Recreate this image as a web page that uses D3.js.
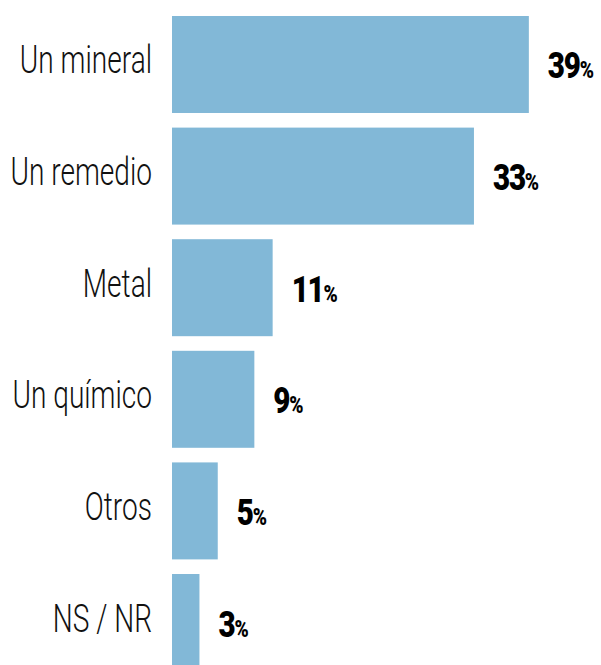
<!DOCTYPE html>
<html>
<head>
<meta charset="utf-8">
<script src="https://cdn.jsdelivr.net/npm/d3@7"></script>
<style>
  body { margin: 0; background: #fff; }
  svg { display: block; }
</style>
</head>
<body>
<div id="chart"></div>
<script>
// données
const categories = ["Un mineral", "Un remedio", "Metal", "Un químico", "Otros", "NS / NR"];
const values = [39, 33, 11, 9, 5, 3];

const width = 601;
const height = 665;
const x0 = 172;        // début des barres
const pxPerPct = 9.15; // largeur par point de pourcentage

const svg = d3.select("#chart")
  .append("svg")
  .attr("width", width)
  .attr("height", height);

// échelles
const x = d3.scaleLinear()
  .domain([0, 39])
  .range([x0, x0 + 39 * pxPerPct]);

const y = d3.scaleBand()
  .domain(categories)
  .range([16, 671])
  .paddingInner(0.131)
  .paddingOuter(0);

const rows = categories.map((c, i) => ({ cat: c, val: values[i] }));

// barres
svg.append("g")
  .selectAll("rect")
  .data(rows)
  .join("rect")
  .attr("x", x(0))
  .attr("y", d => y(d.cat))
  .attr("width", d => x(d.val) - x(0))
  .attr("height", y.bandwidth())
  .attr("fill", "#82b8d7");

// étiquettes des catégories (texte condensé)
const catSx = 0.72;
svg.append("g")
  .selectAll("g")
  .data(rows)
  .join("g")
  .attr("transform", d => `translate(152, ${y(d.cat) + y.bandwidth() / 2 + 9}) scale(${catSx},1)`)
  .append("text")
  .attr("text-anchor", "end")
  .attr("font-family", "Roboto, 'Liberation Sans', sans-serif")
  .attr("font-weight", 300)
  .attr("font-size", "39px")
  .attr("fill", "#111")
  .text(d => d.cat);

// étiquettes des valeurs
const valSx = 0.8;
const valLabels = svg.append("g")
  .selectAll("g")
  .data(rows)
  .join("g")
  .attr("transform", d => `translate(${x(d.val) + 19}, ${y(d.cat) + y.bandwidth() / 2 + 14}) scale(${valSx},1)`)
  .append("text")
  .attr("font-family", "Roboto, 'Liberation Sans', sans-serif")
  .attr("font-weight", 900)
  .attr("fill", "#000");

valLabels.append("tspan")
  .attr("font-size", "37px")
  .attr("letter-spacing", "-1.5px")
  .text(d => d.val);

valLabels.append("tspan")
  .attr("font-size", "24px")
  .text("%");
</script>
</body>
</html>
